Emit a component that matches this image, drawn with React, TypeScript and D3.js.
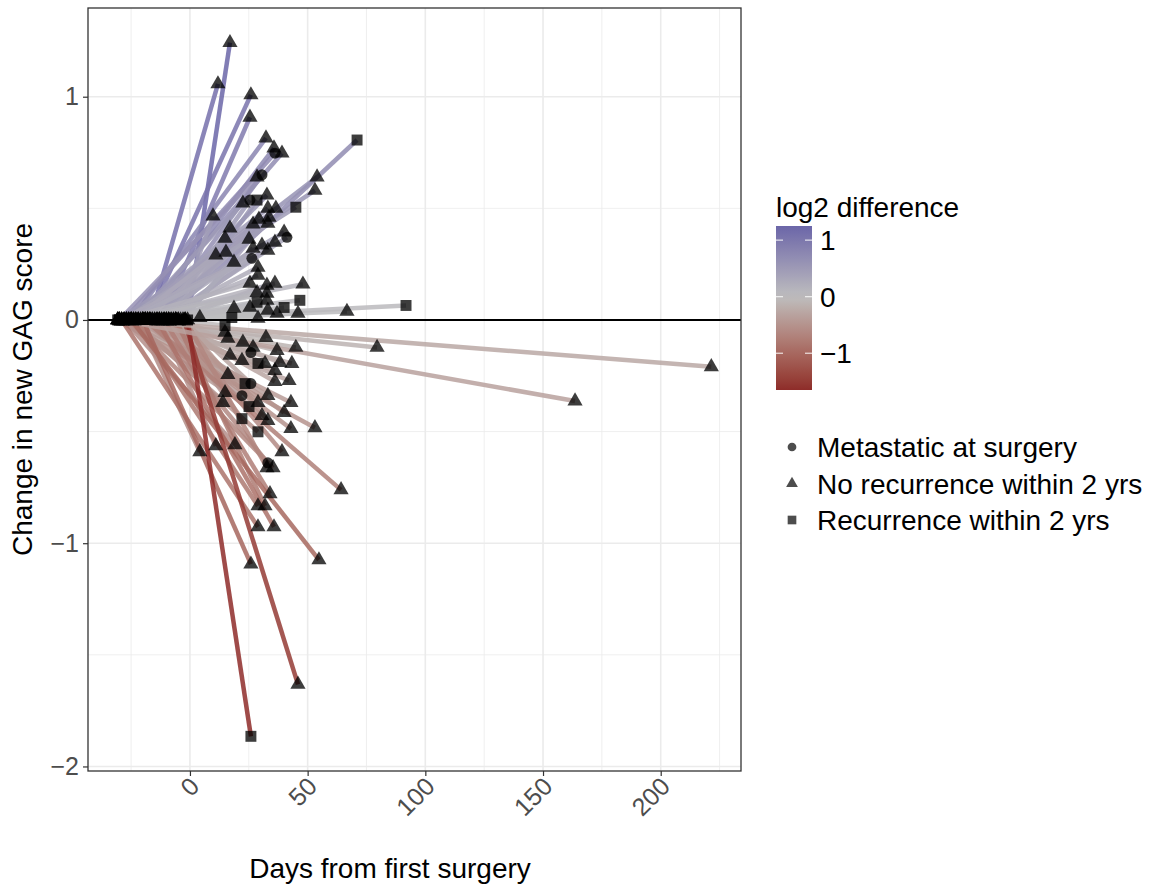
import React, { useRef, useEffect } from "react";
import * as d3 from "d3";

// one entry per patient: first sample at (startDays, 0), second at (endDays, changes)
const startDays = [
  -1, -17, -18, -12, -25, -20, -28, -22, -14, -30,
  -11, -25, -29, -30.7, -8, -19, -24, -11, -27, -15,
  -6, -13, -21, -9, -26, -17, -3, -23, -12, -28,
  -7, -16, -30, -10, -24, -20, -5, -26, -14, -18,
  -29, -8, -22, -30.7, -11, -27, -4, -19, -15, -24,
  -9, -28, -30, -2, -13, -6, -21, -17, -25, -10,
  -8, -20, -27, -13, -5, -22, -30, -16, -25, -30.7,
  -9, -18, -28, -12, -23, -6, -26, -19, -10, -15,
  -29, -3, -21, -11, -24, -17, -7, -27, -14, -30,
  -9, -20, -4, -25, -18, -30.7, -22, -13, -28, -8,
  -16, -26, -2, -19, -11, -23, -6, -29, -14, -20,
  -25, -2.5, -1, -30.5, -30,
];
const endDays = [
  17.0, 11.9, 25.9, 25.5, 32.3, 35.7, 36.1, 39.1, 30.6, 28.5,
  71.0, 54.0, 53.1, 45.0, 28.5, 32.7, 22.5, 25.5, 33.1, 36.5,
  9.8, 17.0, 14.9, 26.8, 29.3, 33.1, 33.6, 40.0, 41.2, 25.1,
  26.8, 30.6, 33.1, 36.1, 11.0, 15.3, 18.7, 26.3, 28.9, 28.9,
  25.5, 32.7, 36.1, 48.0, 28.5, 32.7, 28.5, 32.7, 40.0, 46.7,
  45.9, 66.7, 91.8, 18.7, 17.8, 4.2, 28.9, 33.1, 37.0, 25.5,
  14.9, 14.9, 16.1, 22.5, 26.8, 25.9, 32.3, 37.0, 45.0, 79.5,
  17.0, 22.1, 28.9, 31.9, 36.1, 38.2, 43.3, 42.1, 36.1, 16.1,
  23.4, 25.9, 22.1, 14.9, 14.0, 33.1, 28.9, 42.9, 40.0, 25.1,
  22.1, 30.6, 33.1, 28.9, 42.9, 53.1, 4.2, 11.0, 19.1, 39.1,
  33.1, 35.3, 32.7, 64.2, 34.0, 28.9, 31.9, 28.9, 35.7, 25.9,
  54.8, 45.9, 25.9, 163.6, 221.5,
];
const changes = [
  1.242, 1.057, 1.008, 0.908, 0.815, 0.77, 0.747, 0.747, 0.65, 0.64,
  0.806, 0.64, 0.58, 0.505, 0.537, 0.559, 0.523, 0.537, 0.5, 0.5,
  0.465, 0.411, 0.366, 0.429, 0.451, 0.433, 0.46, 0.393, 0.37, 0.361,
  0.321, 0.335, 0.312, 0.348, 0.29, 0.303, 0.258, 0.276, 0.236, 0.2,
  0.164, 0.155, 0.164, 0.16, 0.123, 0.119, 0.079, 0.088, 0.056, 0.088,
  0.029, 0.038, 0.065, 0.052, 0.011, 0.011, 0.007, 0.043, 0.029, 0.056,
  -0.025, -0.056, -0.083, -0.1, -0.123, -0.146, -0.079, -0.137, -0.123, -0.123,
  -0.159, -0.182, -0.195, -0.195, -0.227, -0.191, -0.195, -0.272, -0.276, -0.245,
  -0.285, -0.285, -0.339, -0.326, -0.37, -0.339, -0.37, -0.37, -0.415, -0.388,
  -0.442, -0.429, -0.451, -0.501, -0.487, -0.483, -0.591, -0.564, -0.559, -0.591,
  -0.64, -0.662, -0.662, -0.761, -0.779, -0.833, -0.833, -0.927, -0.927, -1.094,
  -1.075, -1.632, -1.865, -0.363, -0.21,
];
const log2Diff = [
  1.25, 1.1, 1.05, 0.95, 0.8, 0.75, 0.72, 0.7, 0.65, 0.62,
  0.7, 0.6, 0.58, 0.5, 0.52, 0.55, 0.5, 0.5, 0.48, 0.47,
  0.45, 0.42, 0.38, 0.42, 0.44, 0.4, 0.45, 0.38, 0.36, 0.35,
  0.33, 0.32, 0.3, 0.34, 0.3, 0.31, 0.26, 0.27, 0.23, 0.2,
  0.16, 0.15, 0.16, 0.14, 0.12, 0.11, 0.08, 0.08, 0.05, 0.07,
  0.03, 0.03, 0.05, 0.05, 0.01, 0.01, 0.0, 0.04, 0.02, 0.05,
  -0.03, -0.06, -0.08, -0.1, -0.12, -0.14, -0.08, -0.13, -0.12, -0.13,
  -0.16, -0.18, -0.19, -0.2, -0.22, -0.19, -0.2, -0.27, -0.28, -0.25,
  -0.3, -0.29, -0.34, -0.33, -0.37, -0.35, -0.38, -0.4, -0.43, -0.4,
  -0.45, -0.44, -0.46, -0.5, -0.5, -0.5, -0.58, -0.55, -0.55, -0.6,
  -0.62, -0.64, -0.65, -0.72, -0.74, -0.8, -0.78, -0.87, -0.88, -1.02,
  -1.0, -1.5, -1.65, -0.33, -0.25,
];
// M = metastatic, N = no recurrence, R = recurrence
const outcomes = [
  "N", "N", "N", "N", "N", "N", "M", "N", "M", "N",
  "R", "N", "N", "R", "R", "N", "N", "M", "N", "N",
  "N", "N", "N", "N", "N", "N", "N", "N", "M", "N",
  "N", "N", "N", "N", "N", "N", "N", "M", "N", "N",
  "N", "N", "N", "N", "N", "N", "R", "N", "R", "R",
  "N", "N", "R", "N", "R", "N", "N", "N", "N", "N",
  "R", "N", "N", "N", "N", "M", "N", "N", "N", "N",
  "N", "N", "R", "N", "N", "N", "N", "N", "N", "N",
  "R", "M", "M", "N", "N", "N", "N", "N", "N", "R",
  "R", "N", "N", "R", "N", "N", "N", "N", "N", "N",
  "M", "N", "N", "N", "N", "N", "N", "N", "N", "N",
  "N", "N", "R", "N", "N",
];
const outcomeKeys = ["M", "N", "R"];
const outcomeLabels = ["Metastatic at surgery", "No recurrence within 2 yrs", "Recurrence within 2 yrs"];
const xTicks = [0, 50, 100, 150, 200];
const xMinor = [-25, 25, 75, 125, 175, 225];
const yTicks = [-2, -1, 0, 1];
const yMinor = [-1.5, -0.5, 0.5];
const colourTicks = [-1, 0, 1];

const FONT = "'Liberation Sans', Arial, Helvetica, sans-serif";

export default function App() {
  const svgRef = useRef<SVGSVGElement>(null);

  useEffect(() => {
    document.body.style.margin = "0";
    const svg = d3.select(svgRef.current);
    svg.selectAll("*").remove();

    const left = 88, right = 741, top = 8, bottom = 771;

    // ggplot style 5% expansion
    const xExt = d3.extent(startDays.concat(endDays)) as [number, number];
    const yExt = d3.extent(changes.concat([0])) as [number, number];
    const xPad = (xExt[1] - xExt[0]) * 0.05;
    const yPad = (yExt[1] - yExt[0]) * 0.05;

    const x = d3.scaleLinear().domain([xExt[0] - xPad, xExt[1] + xPad]).range([left, right]);
    const y = d3.scaleLinear().domain([yExt[0] - yPad, yExt[1] + yPad]).range([bottom, top]);

    const cExt = d3.extent(log2Diff) as [number, number];
    const colour = d3.scaleLinear<string>()
      .domain([cExt[0], 0, cExt[1]])
      .range(["#8e2c29", "#bebebe", "#6b66a8"])
      .interpolate(d3.interpolateLab);

    const shape = d3.scaleOrdinal<string, d3.SymbolType>()
      .domain(outcomeKeys)
      .range([d3.symbolCircle, d3.symbolTriangle, d3.symbolSquare]);
    const shapeSize = d3.scaleOrdinal<string, number>().domain(outcomeKeys).range([95, 100, 120]);

    // grid
    const grid = svg.append("g");
    grid.selectAll(".xminor").data(xMinor).join("line")
      .attr("x1", d => x(d)).attr("x2", d => x(d)).attr("y1", top).attr("y2", bottom)
      .attr("stroke", "#ebebeb").attr("stroke-width", 0.8);
    grid.selectAll(".yminor").data(yMinor).join("line")
      .attr("y1", d => y(d)).attr("y2", d => y(d)).attr("x1", left).attr("x2", right)
      .attr("stroke", "#ebebeb").attr("stroke-width", 0.8);
    grid.selectAll(".xmajor").data(xTicks).join("line")
      .attr("x1", d => x(d)).attr("x2", d => x(d)).attr("y1", top).attr("y2", bottom)
      .attr("stroke", "#ebebeb").attr("stroke-width", 1.6);
    grid.selectAll(".ymajor").data(yTicks).join("line")
      .attr("y1", d => y(d)).attr("y2", d => y(d)).attr("x1", left).attr("x2", right)
      .attr("stroke", "#ebebeb").attr("stroke-width", 1.6);

    const idx = d3.range(endDays.length);

    // segments
    svg.append("g").selectAll("line").data(idx).join("line")
      .attr("x1", i => x(startDays[i])).attr("y1", y(0))
      .attr("x2", i => x(endDays[i])).attr("y2", i => y(changes[i]))
      .attr("stroke", i => colour(log2Diff[i]))
      .attr("stroke-width", 4.5)
      .attr("stroke-opacity", 0.85);

    // zero line
    svg.append("line")
      .attr("x1", left).attr("x2", right).attr("y1", y(0)).attr("y2", y(0))
      .attr("stroke", "black").attr("stroke-width", 2);

    // points
    const pts = svg.append("g");
    pts.selectAll(".start").data(idx).join("path")
      .attr("transform", i => `translate(${x(startDays[i])},${y(0)})`)
      .attr("d", i => d3.symbol().type(shape(outcomes[i])).size(shapeSize(outcomes[i]))())
      .attr("fill", "black").attr("fill-opacity", 0.8);
    pts.selectAll(".end").data(idx).join("path")
      .attr("transform", i => `translate(${x(endDays[i])},${y(changes[i])})`)
      .attr("d", i => d3.symbol().type(shape(outcomes[i])).size(shapeSize(outcomes[i]))())
      .attr("fill", "black").attr("fill-opacity", 0.76);

    // panel border
    svg.append("rect")
      .attr("x", left).attr("y", top).attr("width", right - left).attr("height", bottom - top)
      .attr("fill", "none").attr("stroke", "#333").attr("stroke-width", 1.3);

    // axes
    const gx = svg.append("g").attr("transform", `translate(0,${bottom})`)
      .call(d3.axisBottom(x).tickValues(xTicks).tickSize(5).tickSizeOuter(0).tickFormat(() => ""));
    gx.select(".domain").remove();
    gx.selectAll(".tick line").attr("stroke", "#333").attr("stroke-width", 1.2);
    svg.append("g").selectAll("text").data(xTicks).join("text")
      .attr("transform", d => `translate(${x(d) + 11},${bottom + 17}) rotate(-45)`)
      .attr("text-anchor", "end")
      .attr("font-family", FONT).attr("font-size", 25).attr("fill", "#4d4d4d")
      .text(d => d3.format("d")(d));

    const gy = svg.append("g").attr("transform", `translate(${left},0)`)
      .call(d3.axisLeft(y).tickValues(yTicks).tickSize(5).tickSizeOuter(0).tickPadding(4)
        .tickFormat(d => d3.format("d")(d as number)));
    gy.select(".domain").remove();
    gy.selectAll(".tick line").attr("stroke", "#333").attr("stroke-width", 1.2);
    gy.selectAll(".tick text").attr("font-family", FONT).attr("font-size", 25).attr("fill", "#4d4d4d");

    svg.append("text")
      .attr("x", 390).attr("y", 878)
      .attr("text-anchor", "middle").attr("font-family", FONT).attr("font-size", 28)
      .text("Days from first surgery");
    svg.append("text")
      .attr("transform", `translate(32,${(top + bottom) / 2}) rotate(-90)`)
      .attr("text-anchor", "middle").attr("font-family", FONT).attr("font-size", 28)
      .text("Change in new GAG score");

    // colour legend
    const barX = 776, barW = 36, barTop = 226, barBottom = 390;
    const legY = d3.scaleLinear().domain(cExt).range([barBottom, barTop]);
    const grad = svg.append("defs").append("linearGradient")
      .attr("id", "log2grad").attr("x1", 0).attr("x2", 0).attr("y1", 1).attr("y2", 0);
    grad.selectAll("stop").data(d3.range(0, 1.0001, 0.05)).join("stop")
      .attr("offset", t => t)
      .attr("stop-color", t => colour(cExt[0] + t * (cExt[1] - cExt[0])));

    svg.append("text")
      .attr("x", barX).attr("y", 217)
      .attr("font-family", FONT).attr("font-size", 28)
      .text("log2 difference");
    svg.append("rect")
      .attr("x", barX).attr("y", barTop).attr("width", barW).attr("height", barBottom - barTop)
      .attr("fill", "url(#log2grad)");
    const ct = svg.append("g");
    ct.selectAll(".l").data(colourTicks).join("line")
      .attr("x1", barX).attr("x2", barX + 7).attr("y1", d => legY(d)).attr("y2", d => legY(d))
      .attr("stroke", "white").attr("stroke-opacity", 0.8).attr("stroke-width", 1.2);
    ct.selectAll(".r").data(colourTicks).join("line")
      .attr("x1", barX + barW - 7).attr("x2", barX + barW).attr("y1", d => legY(d)).attr("y2", d => legY(d))
      .attr("stroke", "white").attr("stroke-opacity", 0.8).attr("stroke-width", 1.2);
    ct.selectAll("text").data(colourTicks).join("text")
      .attr("x", barX + barW + 8).attr("y", d => legY(d))
      .attr("dy", "0.36em")
      .attr("font-family", FONT).attr("font-size", 28)
      .text(d => d3.format("d")(d));

    // shape legend
    const shapeLeg = svg.append("g");
    const rowY = d3.scalePoint().domain(outcomeKeys).range([447, 520]);
    shapeLeg.selectAll("path").data(outcomeKeys).join("path")
      .attr("transform", k => `translate(792,${rowY(k)})`)
      .attr("d", k => d3.symbol().type(shape(k)).size(k === "R" ? 75 : 60)())
      .attr("fill", "#4d4d4d");
    shapeLeg.selectAll("text").data(outcomeKeys).join("text")
      .attr("x", 817).attr("y", k => rowY(k) as number)
      .attr("dy", "0.36em")
      .attr("font-family", FONT).attr("font-size", 28)
      .text((k, i) => outcomeLabels[i]);
  }, []);

  return <svg ref={svgRef} width={1153} height={887} style={{ display: "block", background: "#fff" }} />;
}
